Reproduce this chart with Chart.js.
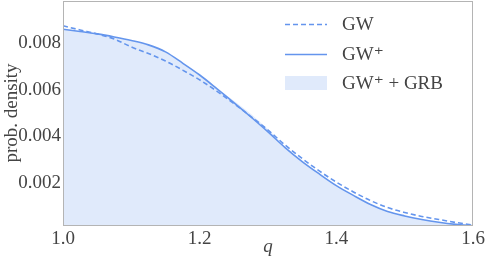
<!DOCTYPE html>
<html>
<head>
<meta charset="utf-8">
<script src="https://cdn.jsdelivr.net/npm/chart.js@4"></script>
<style>
html,body{margin:0;padding:0;background:#fff;}
#wrap{width:485px;height:265px;position:relative;}
</style>
</head>
<body>
<div id="wrap"><canvas id="c" width="485" height="265"></canvas></div>
<script>
const qValues = [1.000,1.025,1.050,1.075,1.100,1.125,1.150,1.175,1.200,1.225,1.250,1.275,1.300,1.325,1.350,1.375,1.400,1.425,1.450,1.475,1.500,1.525,1.550,1.575,1.600];
const gwValues = [0.00874,0.00856,0.00839,0.00817,0.00783,0.00755,0.00723,0.00684,0.00642,0.00594,0.00541,0.00485,0.00427,0.00363,0.00305,0.00252,0.00204,0.00162,0.00125,0.00095,0.00074,0.00057,0.00044,0.00031,0.00020];
const gwPlusValues = [0.00859,0.00849,0.00839,0.00826,0.00811,0.00792,0.00762,0.00714,0.00663,0.00605,0.00545,0.00483,0.00419,0.00352,0.00292,0.00239,0.00189,0.00147,0.00108,0.00078,0.00059,0.00044,0.00032,0.00023,0.00017];
const grbValues = [0.00859,0.00849,0.00839,0.00826,0.00811,0.00792,0.00762,0.00714,0.00663,0.00606,0.00553,0.00496,0.00430,0.00356,0.00292,0.00239,0.00189,0.00147,0.00108,0.00078,0.00059,0.00044,0.00032,0.00023,0.00017];
const xTicks = [1.0, 1.2, 1.4, 1.6];
const yTicks = [0.002, 0.004, 0.006, 0.008];
const seriesLabels = ['GW', 'GW\u207A', 'GW\u207A + GRB'];

const LINE = '#6495ED';
const FILL = 'rgba(100,149,237,0.2)';
const TXT = '#444';
const FONT = '"Liberation Serif", "DejaVu Serif", serif';
const FS = 19;

const pts = arr => qValues.map((q, i) => ({x: q, y: arr[i]}));

const frameLegend = {
  id: 'frameLegend',
  afterDraw(chart) {
    const {ctx, chartArea: a} = chart;
    ctx.save();
    ctx.strokeStyle = '#b4b4b4';
    ctx.lineWidth = 1;
    ctx.strokeRect(Math.round(a.left) + 0.5, Math.round(a.top) + 0.5, Math.round(a.right - a.left) - 1, Math.round(a.bottom - a.top) - 1);
    // legend
    const x0 = 285, x1 = 327, tx = 342;
    ctx.lineWidth = 1.6;
    ctx.strokeStyle = LINE;
    ctx.setLineDash([5, 3]);
    ctx.beginPath(); ctx.moveTo(x0, 24.5); ctx.lineTo(x1, 24.5); ctx.stroke();
    ctx.setLineDash([]);
    ctx.beginPath(); ctx.moveTo(x0, 54.5); ctx.lineTo(x1, 54.5); ctx.stroke();
    ctx.fillStyle = FILL;
    ctx.fillRect(x0, 76, x1 - x0, 14);
    ctx.fillStyle = TXT;
    ctx.font = FS + 'px ' + FONT;
    ctx.textBaseline = 'middle';
    ctx.fillText(seriesLabels[0], tx, 25);
    ctx.fillText(seriesLabels[1], tx, 55);
    ctx.fillText(seriesLabels[2], tx, 84);
    // axis titles
    ctx.font = 'italic ' + FS + 'px ' + FONT;
    ctx.textAlign = 'center';
    ctx.fillText('q', (a.left + a.right) / 2, 247);
    ctx.font = FS + 'px ' + FONT;
    ctx.translate(12, 113);
    ctx.rotate(-Math.PI / 2);
    ctx.fillText('prob. density', 0, 0);
    ctx.restore();
  }
};

new Chart(document.getElementById('c'), {
  type: 'line',
  data: {
    datasets: [
      {label: seriesLabels[0], data: pts(gwValues), borderColor: LINE, borderWidth: 1.6, borderDash: [5, 3], pointRadius: 0, fill: false, cubicInterpolationMode: 'monotone'},
      {label: seriesLabels[1], data: pts(gwPlusValues), borderColor: LINE, borderWidth: 1.6, pointRadius: 0, fill: false, cubicInterpolationMode: 'monotone'},
      {label: seriesLabels[2], data: pts(grbValues), borderColor: 'rgba(0,0,0,0)', borderWidth: 0, backgroundColor: FILL, pointRadius: 0, fill: 'origin', cubicInterpolationMode: 'monotone'}
    ]
  },
  options: {
    responsive: false,
    animation: false,
    events: [],
    layout: {padding: {left: 0, right: 12, top: 1, bottom: 0}},
    plugins: {legend: {display: false}, tooltip: {enabled: false}},
    scales: {
      x: {
        type: 'linear', min: 1.0, max: 1.6,
        afterBuildTicks: s => { s.ticks = xTicks.map(v => ({value: v})); },
        afterFit: s => { s.height = 39; s.paddingLeft = 0; s.paddingRight = 0; },
        grid: {display: false, drawTicks: false},
        border: {display: false},
        ticks: {color: TXT, font: {family: FONT, size: FS}, padding: 2, maxRotation: 0, callback: v => v.toFixed(1)}
      },
      y: {
        type: 'linear', min: 0.00016, max: 0.0098,
        afterBuildTicks: s => { s.ticks = yTicks.map(v => ({value: v})); },
        afterFit: s => { s.width = 63; s.paddingTop = 0; s.paddingBottom = 0; },
        grid: {display: false, drawTicks: false},
        border: {display: false},
        ticks: {color: TXT, font: {family: FONT, size: FS}, padding: 2, callback: v => v.toFixed(3)}
      }
    }
  },
  plugins: [frameLegend]
});
</script>
</body>
</html>
